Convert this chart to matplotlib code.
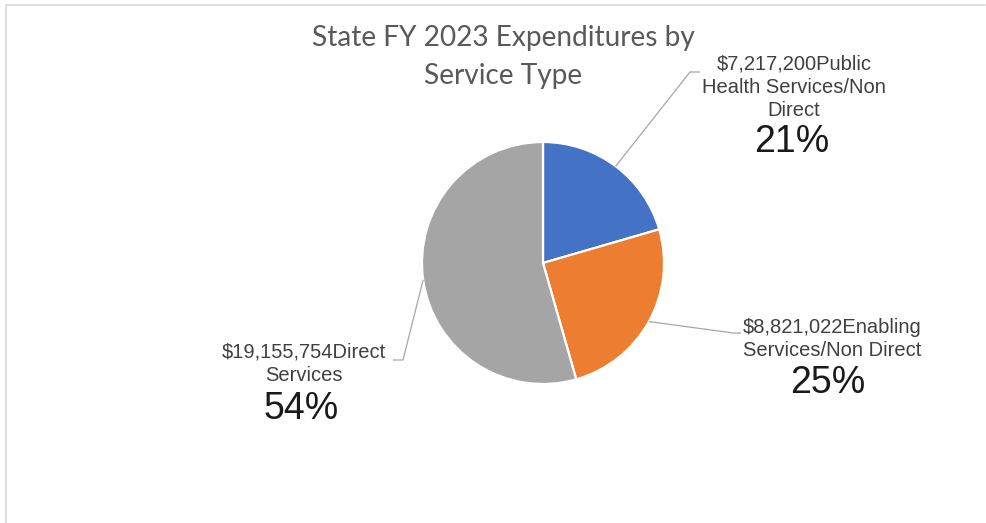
import textwrap
import numpy as np
import matplotlib
matplotlib.use("Agg")
import matplotlib.pyplot as plt
from matplotlib.lines import Line2D

# Expenditure data
categories = ["Public Health Services/Non Direct",
              "Enabling Services/Non Direct",
              "Direct Services"]
amounts = [7217200, 8821022, 19155754]
colors = ["#4472C4", "#ED7D31", "#A5A5A5"]
title = "State FY 2023 Expenditures by\nService Type"

W, H = 987, 523
fig = plt.figure(figsize=(W / 100, H / 100), dpi=100)
ax = fig.add_axes([0, 0, 1, 1])


def Y(y):
    # layout positions are given top-down in pixels
    return H - y


cx, cy, r = 543, Y(263), 121
wedges, _ = ax.pie(amounts, colors=colors, startangle=90, counterclock=False,
                   center=(cx, cy), radius=r,
                   wedgeprops=dict(edgecolor="white", linewidth=1.6))
ax.set_xlim(0, W)
ax.set_ylim(0, H)
ax.set_aspect("equal")
ax.axis("off")

total = sum(amounts)
# label block layout: (text center x, text center y, pct x, pct y, elbow, end)
layout = [
    (794, 87, 792, 142, (690, 72), (700, 72)),
    (832, 339, 828, 383, (733, 333), (741, 333)),
    (304, 364, 301, 409, (403, 360), (393, 360)),
]

lead_color = "#A6A6A6"
for w, name, val, (tx, ty, px, py, elbow, end) in zip(wedges, categories, amounts, layout):
    mid = np.deg2rad((w.theta1 + w.theta2) / 2)
    sx, sy = cx + r * np.cos(mid), cy + r * np.sin(mid)
    ax.plot([sx, elbow[0], end[0]], [sy, Y(elbow[1]), Y(end[1])],
            color=lead_color, lw=0.9, solid_capstyle="butt")
    label = "\n".join(textwrap.wrap(f"${val:,}{name}", width=19))
    ax.text(tx, Y(ty), label, ha="center", va="center", multialignment="center",
            fontsize=14.5, color="#404040", family="Liberation Sans",
            linespacing=1.3)
    ax.text(px, Y(py), f"{round(val / total * 100)}%", ha="center", va="center",
            fontsize=27, color="#1A1A1A", family="Liberation Sans")

ax.text(503, Y(57), title, ha="center", va="center", fontsize=20.2,
        color="#595959", family="Lato", linespacing=1.55)

# chart frame edges
fig.add_artist(Line2D([6 / W, 985 / W], [1 - 5 / H, 1 - 5 / H],
                      transform=fig.transFigure, color="#D9D9D9", lw=1.2))
fig.add_artist(Line2D([6 / W, 6 / W], [1 - 5 / H, 0],
                      transform=fig.transFigure, color="#D9D9D9", lw=1.2))

fig.savefig("out.png", dpi=100, facecolor="white")
